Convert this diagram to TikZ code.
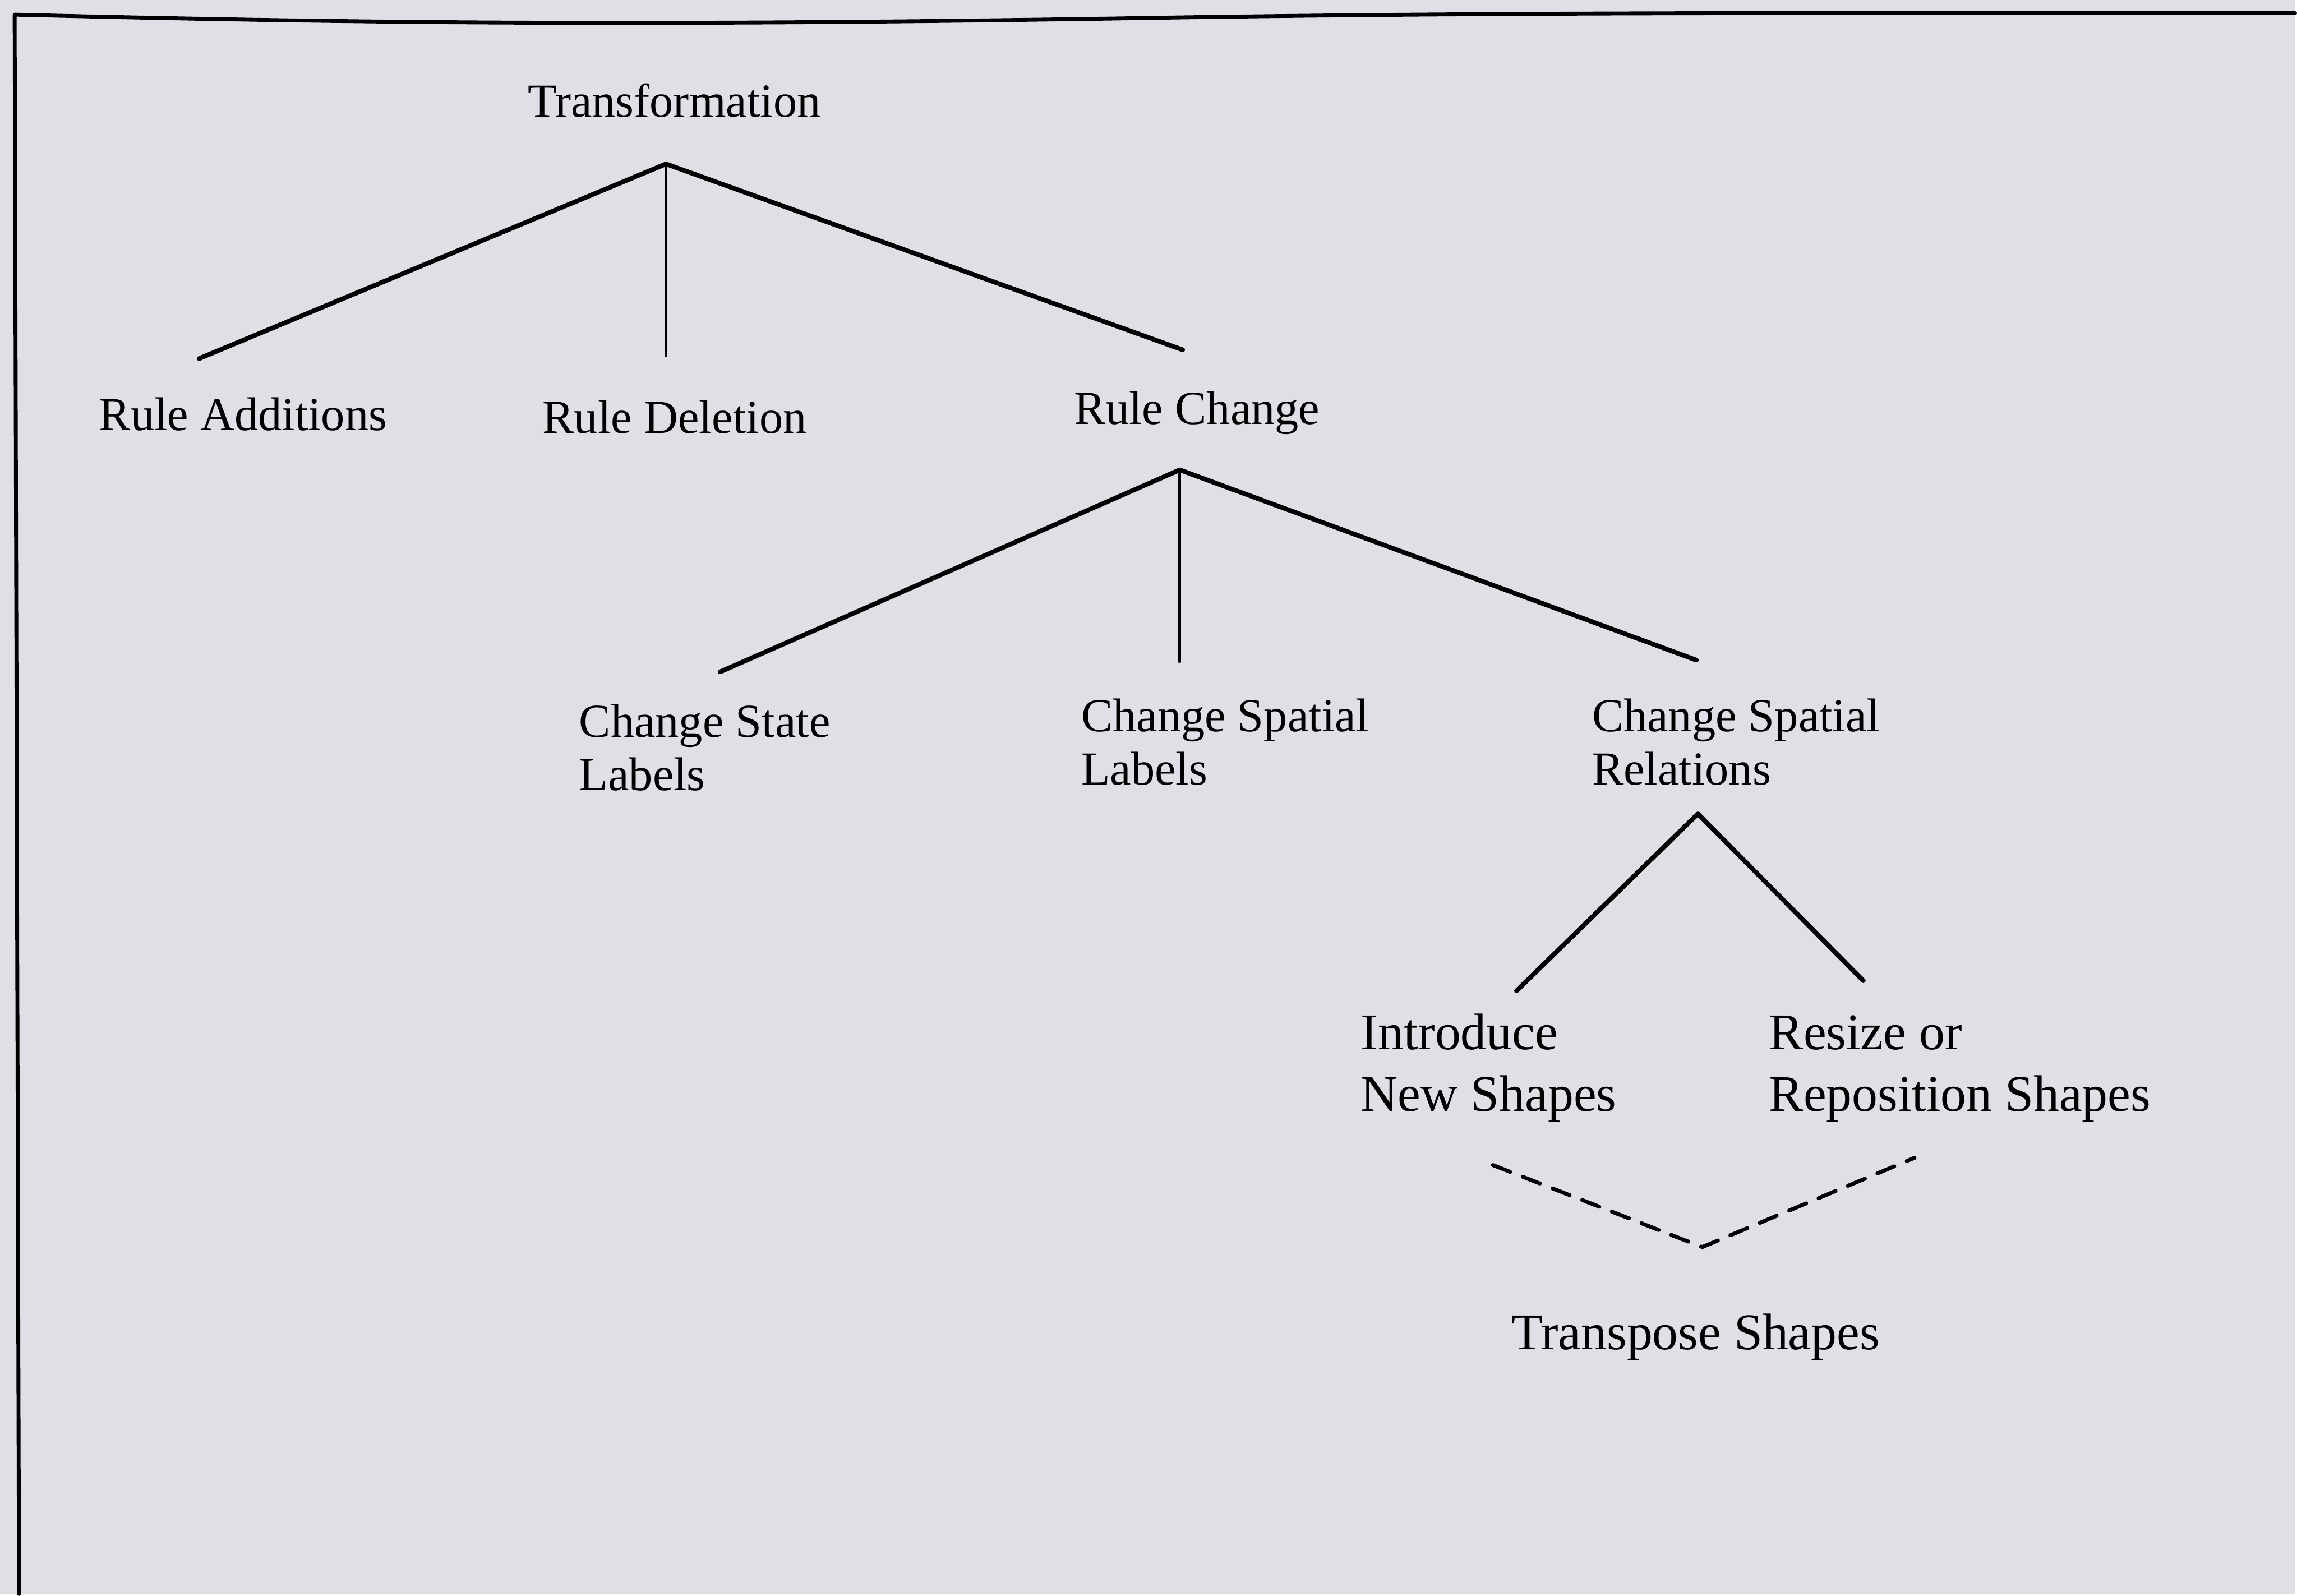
\documentclass[tikz,border=0pt]{standalone}
\usepackage{fontspec}
\setmainfont{Liberation Serif}
\definecolor{paper}{RGB}{223,223,229}
\tikzset{
  lbl/.style={inner sep=0pt, anchor=base west, align=left},
  biglbl/.style={lbl, font=\fontsize{10}{11.9}\selectfont},
  branch/.style={line width=0.9pt},
  stem/.style={line width=0.6pt},
  link/.style={line width=0.75pt, dash pattern=on 3.6pt off 2.6pt}
}
\begin{document}
\begin{tikzpicture}[x=0.1mm, y=-0.1mm, line join=round, line cap=round, font=\fontsize{9.2}{10.3}\selectfont]
  \fill[paper] (0,0) rectangle (1568,1089);
  % page frame
  \draw[line width=0.75pt] (13,1089) -- (10,10) .. controls (250,16) and (450,18) .. (800,12)
        .. controls (1050,8) and (1300,9) .. (1568,9);
  % labels (base = last line)
  \node[lbl] (trans) at (360,80) {Transformation};
  \node[lbl] (add) at (67,294) {Rule Additions};
  \node[lbl] (del) at (370,296) {Rule Deletion};
  \node[lbl] (chg) at (733,290) {Rule Change};
  \node[lbl] (state) at (395,540) {Change State\\Labels};
  \node[lbl] (slab) at (738,536) {Change Spatial\\Labels};
  \node[lbl] (srel) at (1087,536) {Change Spatial\\Relations};
  \node[biglbl] (intro) at (929,759) {Introduce\\New Shapes};
  \node[biglbl] (resize) at (1208,759) {Resize or\\Reposition Shapes};
  \node[biglbl] (transp) at (1032,922) {Transpose Shapes};
  % forks and line ends
  \coordinate (trans-fork) at (455,112);
  \coordinate (add-top) at (136,245);
  \coordinate (del-top) at (455,243);
  \coordinate (chg-top) at (808,239);
  \coordinate (chg-fork) at (806,321);
  \coordinate (state-top) at (492,459);
  \coordinate (slab-top) at (806,452);
  \coordinate (srel-top) at (1159,451);
  \coordinate (srel-fork) at (1160,556);
  \coordinate (intro-top) at (1036,677);
  \coordinate (resize-top) at (1273,670);
  \coordinate (intro-end) at (1020,796);
  \coordinate (transp-fork) at (1163,852);
  \coordinate (resize-end) at (1308,791);
  % tree
  \draw[branch] (add-top) -- (trans-fork) -- (chg-top);
  \draw[stem] (trans-fork) -- (del-top);
  \draw[branch] (state-top) -- (chg-fork) -- (srel-top);
  \draw[stem] (chg-fork) -- (slab-top);
  \draw[branch] (intro-top) -- (srel-fork) -- (resize-top);
  \draw[link] (intro-end) -- (transp-fork) -- (resize-end);
\end{tikzpicture}
\end{document}
